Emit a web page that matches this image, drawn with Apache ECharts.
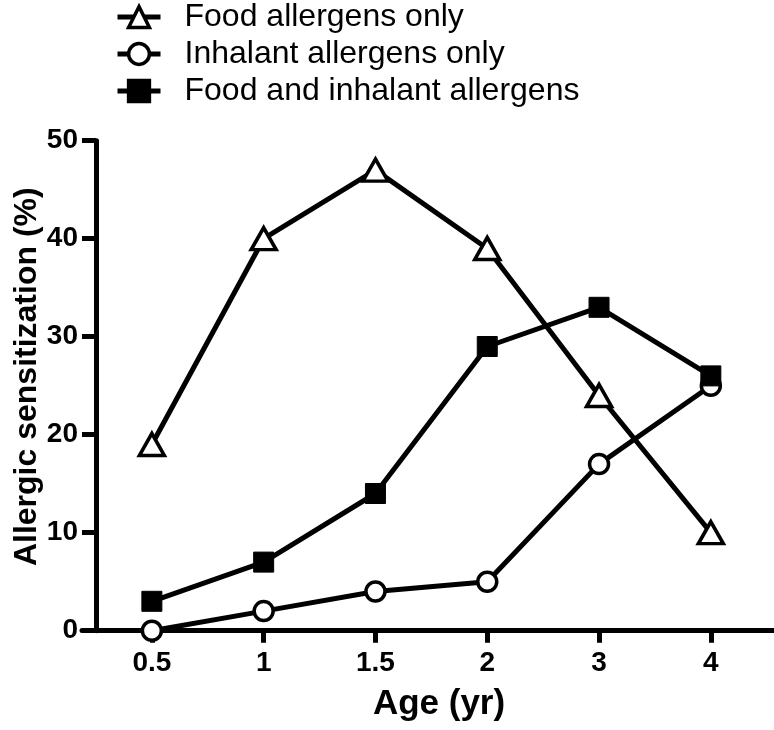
<!DOCTYPE html>
<html>
<head>
<meta charset="utf-8">
<script src="https://cdn.jsdelivr.net/npm/echarts@6/dist/echarts.min.js"></script>
<style>html,body{margin:0;padding:0;background:#fff;}#c{width:774px;height:730px;}</style>
</head>
<body>
<div id="c"></div>
<script>
const ages = ['0.5', '1', '1.5', '2', '3', '4'];
const foodOnly = [19, 40, 47, 39, 24, 10];
const inhalantOnly = [0, 2, 4, 5, 17, 25];
const foodAndInhalant = [3, 7, 14, 29, 33, 26];
const seriesNames = ['Food allergens only', 'Inhalant allergens only', 'Food and inhalant allergens'];

// ages are drawn evenly spaced: position = index + 0.5 on the x value axis
const xPos = ages.map((a, i) => i + 0.5);
const toPoints = vals => vals.map((v, i) => [xPos[i], v]);

const FONT = 'Liberation Sans, Arial, Helvetica, sans-serif';
const chart = echarts.init(document.getElementById('c'), null, {renderer: 'canvas'});

const lineW = 5;
chart.setOption({
  backgroundColor: '#fff',
  animation: false,
  legend: {
    orient: 'vertical',
    left: 115,
    top: 1,
    padding: 0,
    itemWidth: 43,
    itemHeight: 26,
    itemGap: 5,
    data: seriesNames,
    lineStyle: {width: 5},
    itemStyle: {borderWidth: 3.5},
    textStyle: {fontSize: 32, fontFamily: FONT, color: '#000', padding: [0, 0, 0, 19]}
  },
  grid: {left: 82, right: 0, top: 140.7, bottom: 99.3, containLabel: false, outerBoundsMode: 'none'},
  xAxis: {
    type: 'value',
    min: -0.125,
    max: 6.065,
    splitLine: {show: false},
    axisLine: {show: true, lineStyle: {color: '#000', width: 5}},
    axisTick: {show: true, customValues: xPos, length: 12, lineStyle: {color: '#000', width: 5}},
    axisLabel: {
      customValues: xPos,
      margin: 19,
      fontSize: 28,
      fontWeight: 'bold',
      fontFamily: FONT,
      color: '#000',
      formatter: v => ages[Math.round(v - 0.5)]
    },
    name: 'Age (yr)',
    nameLocation: 'middle',
    nameGap: 56,
    nameMoveOverlap: false,
    nameTextStyle: {fontSize: 35, fontWeight: 'bold', fontFamily: FONT, color: '#000', padding: [0, 0, 0, 22]}
  },
  yAxis: {
    type: 'value',
    min: 0,
    max: 50,
    interval: 10,
    splitLine: {show: false},
    axisLine: {show: true, onZero: true, lineStyle: {color: '#000', width: 5}},
    axisTick: {show: true, length: 14, lineStyle: {color: '#000', width: 5}},
    axisLabel: {margin: 4, fontSize: 28, fontWeight: 'bold', fontFamily: FONT, color: '#000'},
    name: 'Allergic sensitization (%)',
    nameLocation: 'middle',
    nameGap: 39,
    nameMoveOverlap: false,
    nameTextStyle: {fontSize: 32, fontWeight: 'bold', fontFamily: FONT, color: '#000', padding: [0, 0, 0, 18]}
  },
  series: [
    {
      name: seriesNames[0],
      type: 'line',
      data: toPoints(foodOnly),
      symbol: 'triangle',
      symbolSize: [25, 22],
      clip: false,
      lineStyle: {color: '#000', width: lineW},
      itemStyle: {color: '#fff', borderColor: '#000', borderWidth: 3.5}
    },
    {
      name: seriesNames[1],
      type: 'line',
      data: toPoints(inhalantOnly),
      symbol: 'circle',
      symbolSize: 19,
      clip: false,
      lineStyle: {color: '#000', width: lineW},
      itemStyle: {color: '#fff', borderColor: '#000', borderWidth: 3.5}
    },
    {
      name: seriesNames[2],
      type: 'line',
      data: toPoints(foodAndInhalant),
      symbol: 'rect',
      symbolSize: 20,
      clip: false,
      lineStyle: {color: '#000', width: lineW},
      itemStyle: {color: '#000', borderColor: '#000', borderWidth: 1}
    }
  ]
});
</script>
</body>
</html>
